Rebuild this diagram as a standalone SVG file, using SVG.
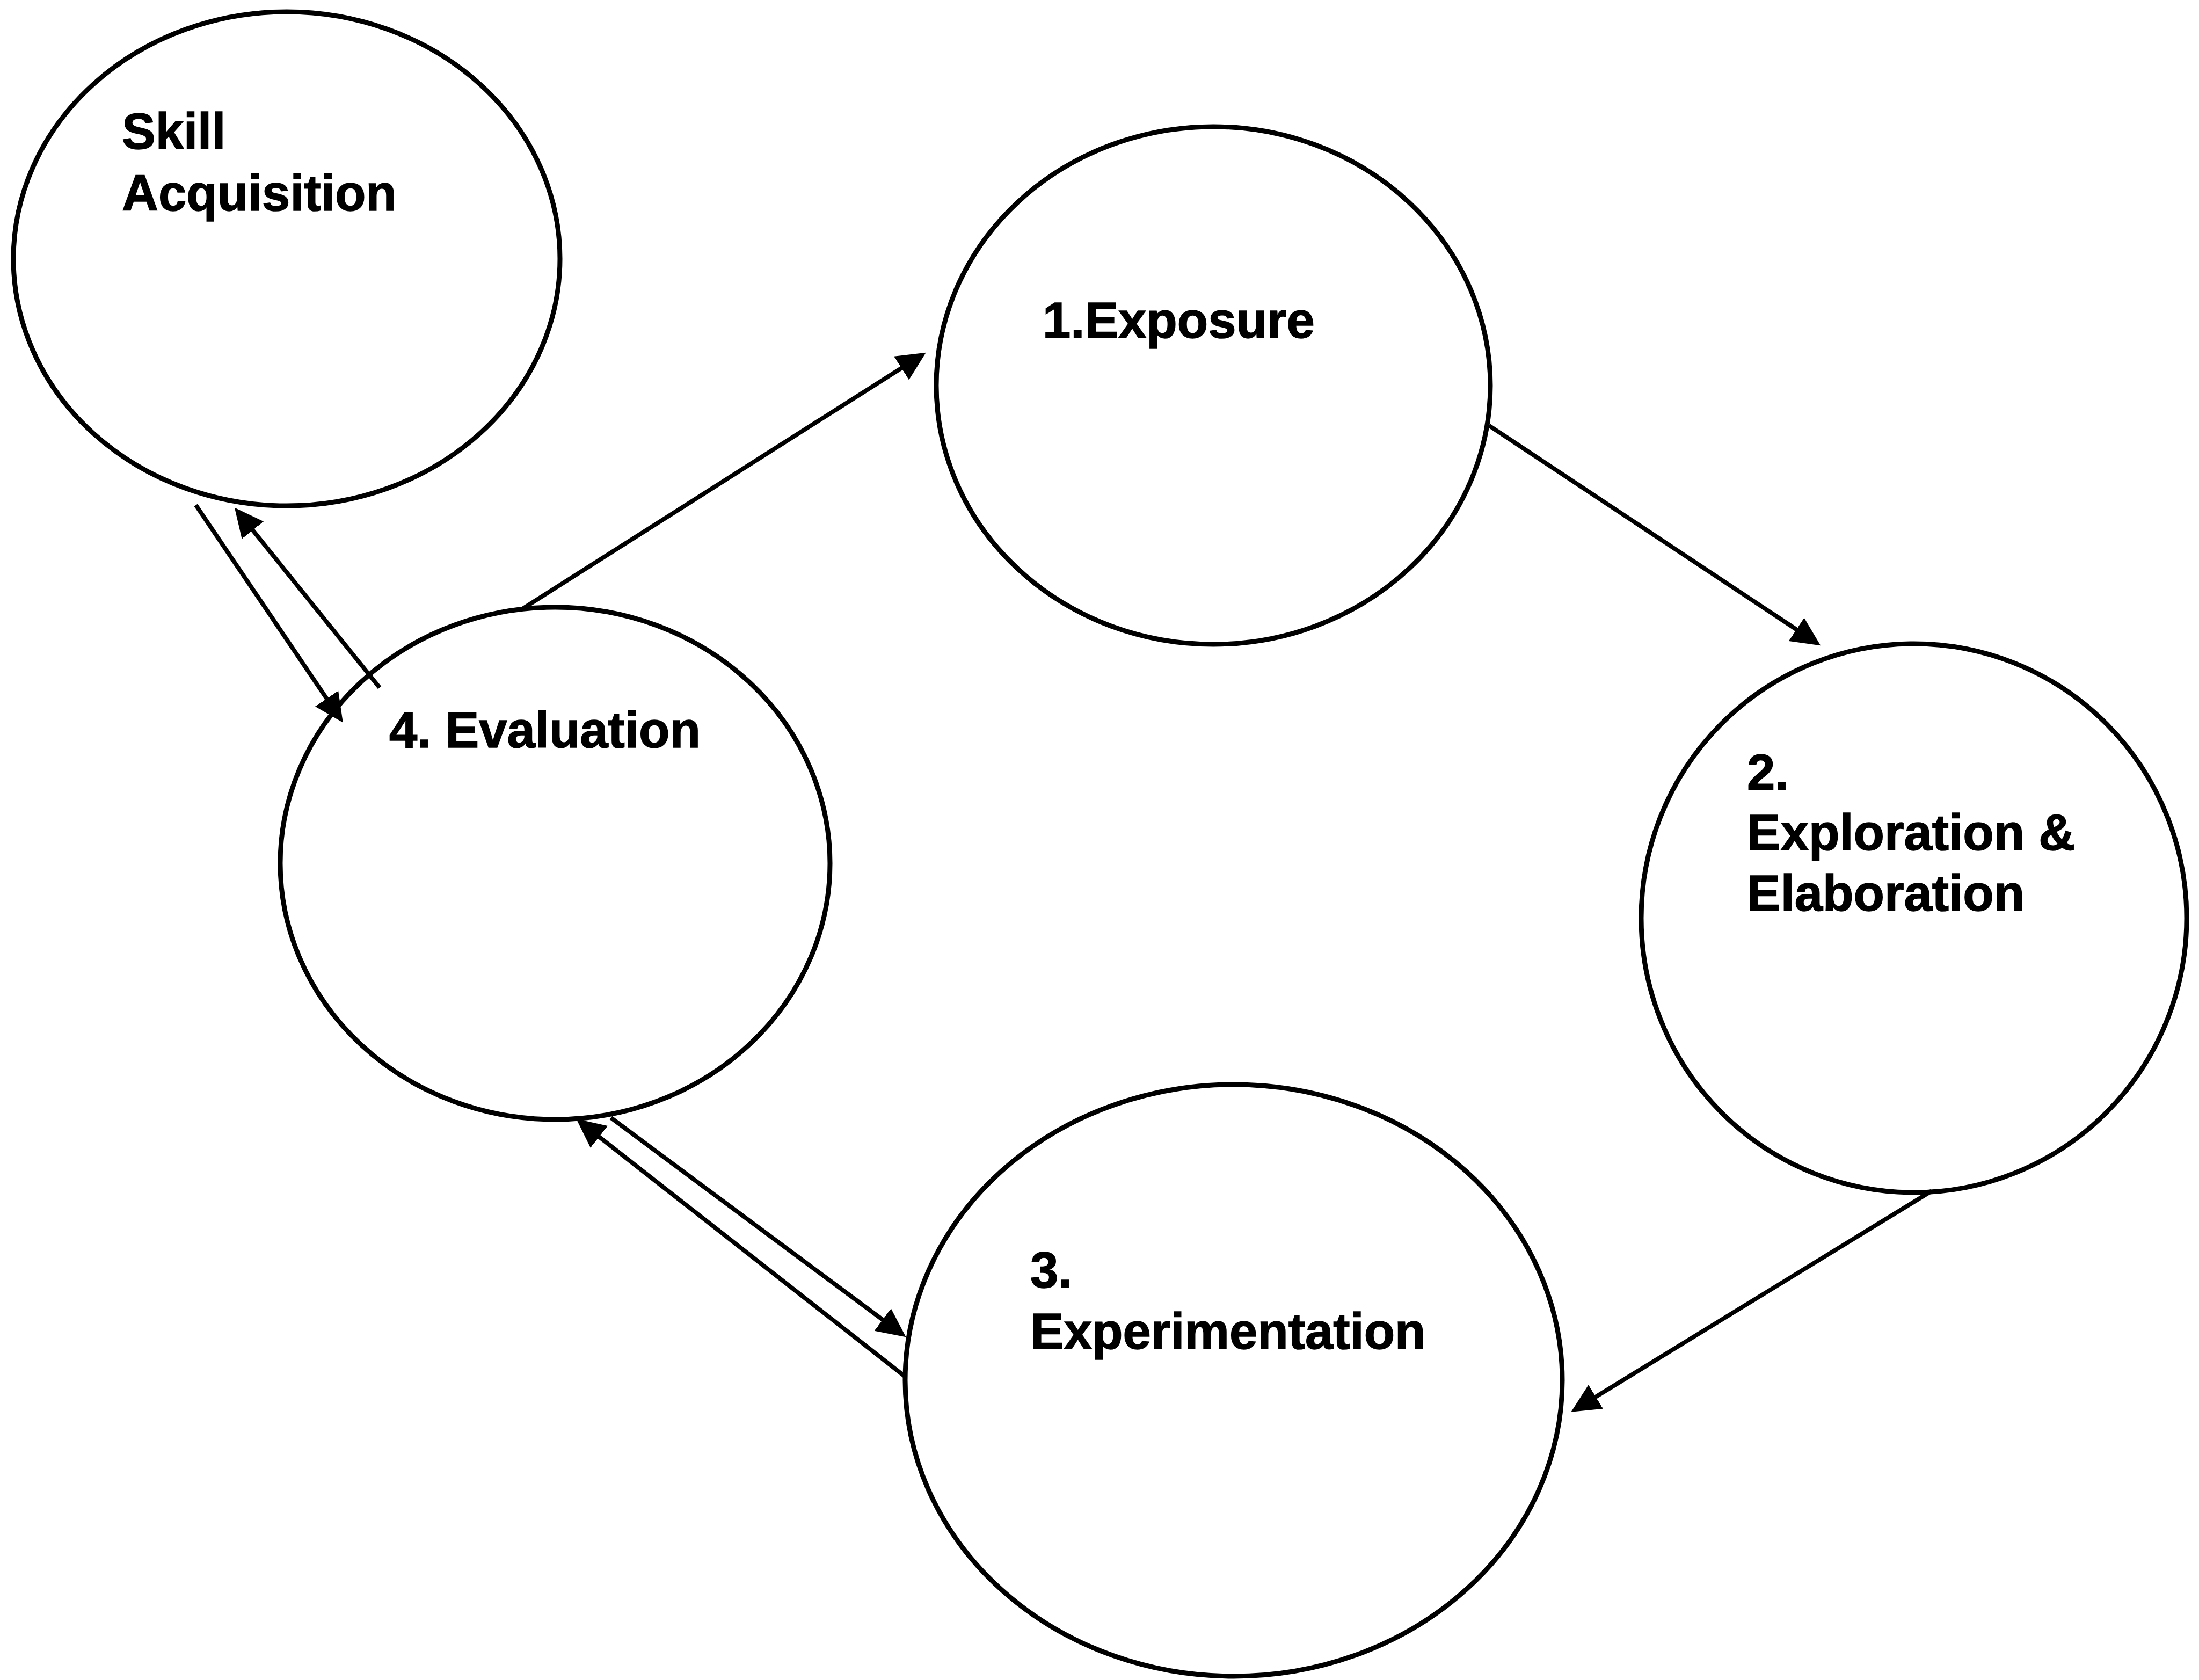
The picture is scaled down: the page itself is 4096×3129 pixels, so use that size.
<svg xmlns="http://www.w3.org/2000/svg" width="4096" height="3129" viewBox="0 0 4096 3129">
  <style>
    .node { fill: none; stroke: #000; stroke-width: 9; }
    .label { font-family: "Liberation Sans", Arial, sans-serif; font-weight: bold; font-size: 94px; fill: #000; stroke: #000; stroke-width: 1.5; }
    .link { fill: none; stroke: #000; stroke-width: 8; marker-end: url(#head); }
  </style>
  <defs>
    <marker id="head" markerUnits="userSpaceOnUse" markerWidth="54" markerHeight="54" viewBox="0 0 54 54" refX="34" refY="27" orient="auto">
      <path d="M0,1 L54,27 L0,53 Z" fill="#000"/>
    </marker>
  </defs>
  <rect width="4096" height="3129" fill="#fff"/>

  <g id="skill-acquisition">
    <ellipse class="node" cx="534" cy="482" rx="509" ry="460"/>
    <text class="label" x="227" y="277">Skill</text>
    <text class="label" x="227" y="392">Acquisition</text>
  </g>

  <g id="exposure">
    <ellipse class="node" cx="2260" cy="718" rx="516" ry="482"/>
    <text class="label" x="1942" y="629">1.Exposure</text>
  </g>

  <g id="exploration">
    <ellipse class="node" cx="3565" cy="1710" rx="508" ry="511"/>
    <text class="label" x="3254" y="1471">2.</text>
    <text class="label" x="3254" y="1583">Exploration &amp;</text>
    <text class="label" x="3254" y="1696">Elaboration</text>
  </g>

  <g id="experimentation">
    <ellipse class="node" cx="2298" cy="2571" rx="612" ry="551"/>
    <text class="label" x="1919" y="2398">3.</text>
    <text class="label" x="1919" y="2512">Experimentation</text>
  </g>

  <g id="evaluation">
    <ellipse class="node" cx="1034" cy="1608" rx="512" ry="477"/>
    <text class="label" x="725" y="1392">4. Evaluation</text>
  </g>

  <g id="connectors">
    <line class="link" x1="971.8" y1="1134.8" x2="1707.8" y2="667.4"/>
    <line class="link" x1="2773.4" y1="792.5" x2="3374.5" y2="1191.2"/>
    <line class="link" x1="3597.7" y1="2218.4" x2="2943.4" y2="2619.3"/>
    <line class="link" x1="1137.9" y1="2081.8" x2="1671.4" y2="2478.2"/>
    <line class="link" x1="1685.9" y1="2563.8" x2="1089.2" y2="2096.4"/>
    <line class="link" x1="364.8" y1="940.8" x2="627.6" y2="1329.3"/>
    <line class="link" x1="707.1" y1="1280.7" x2="449.5" y2="961.0"/>
  </g>
</svg>
